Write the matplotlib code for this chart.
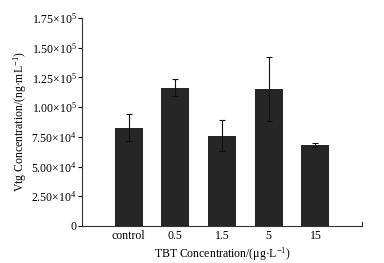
import numpy as np
import matplotlib.pyplot as plt

plt.rcParams['font.family'] = ['Liberation Serif', 'DejaVu Serif']
plt.rcParams['mathtext.fontset'] = 'custom'
plt.rcParams['mathtext.rm'] = 'Liberation Serif'
plt.rcParams['mathtext.it'] = 'Liberation Serif'

# data
groups = ['control', '0.5', '1.5', '5', '15']
vtg_mean = [82700, 116400, 76000, 115000, 68100]
vtg_err = [11500, 7300, 13200, 27000, 2000]

yticks = [0, 25000, 50000, 75000, 100000, 125000, 150000, 175000]
ytick_labels = ['0', r'2.50$\times$10$^4$', r'5.00$\times$10$^4$', r'7.50$\times$10$^4$',
                r'1.00$\times$10$^5$', r'1.25$\times$10$^5$', r'1.50$\times$10$^5$',
                r'1.75$\times$10$^5$']

fig = plt.figure(figsize=(3.84, 2.63), dpi=100)
ax = fig.add_axes([0.2135, 0.1407, 0.943 - 0.2135, 0.9316 - 0.1407])

x = np.arange(len(groups))
ax.bar(x, vtg_mean, width=0.6, color='#262626', zorder=2)
ax.errorbar(x, vtg_mean, yerr=vtg_err, fmt='none', ecolor='#111111',
            elinewidth=0.8, capsize=2, capthick=0.8, zorder=3)

ax.set_xlim(-1, 5)
ax.set_ylim(0, 175000)
ax.set_xticks(x)
ax.set_xticklabels(groups, fontsize=8.5)
ax.set_yticks(yticks)
ax.set_yticklabels(ytick_labels, fontsize=8.5)
ax.tick_params(axis='x', direction='in', length=2, width=0.6, pad=3)
ax.tick_params(axis='y', direction='out', length=3, width=0.8, pad=1)

for s in ['top', 'right']:
    ax.spines[s].set_visible(False)
for s in ['left', 'bottom']:
    ax.spines[s].set_linewidth(0.8)
    ax.spines[s].set_color('#333333')
# little upward tick at the right end of the x axis
ax.plot([5, 5], [0, 3500], color='#333333', lw=0.8, clip_on=False)

ax.set_xlabel('TBT Concentration/(μg·L$^{-1}$)', fontsize=8.5, labelpad=2)
ax.set_ylabel('Vtg Concentration/(ng·mL$^{-1}$)', fontsize=8.5, labelpad=2)

fig.savefig('out.png', dpi=100)
